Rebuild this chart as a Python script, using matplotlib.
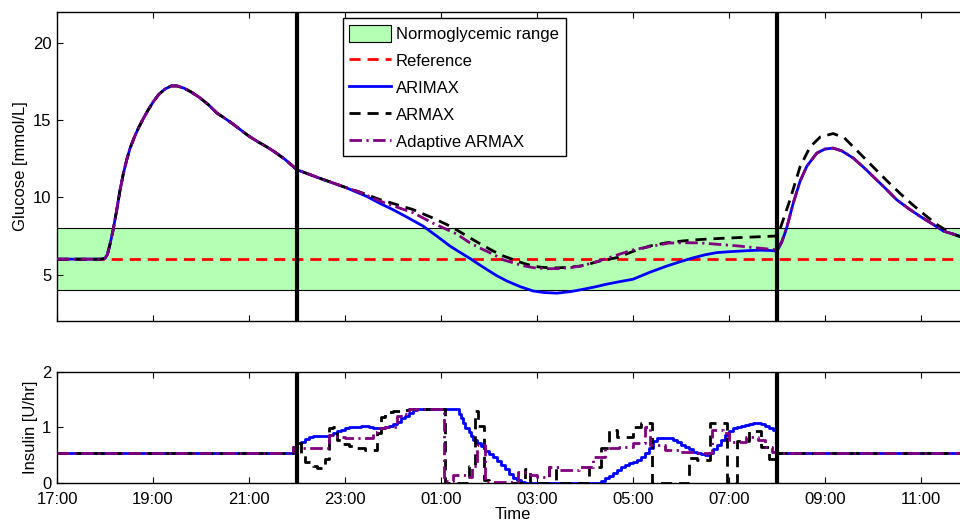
import numpy as np
import matplotlib
matplotlib.use("Agg")
import matplotlib.pyplot as plt
from matplotlib.patches import Patch
from matplotlib.lines import Line2D

plt.rcParams['font.family'] = ['Liberation Sans', 'DejaVu Sans']
plt.rcParams['font.size'] = 12

# ---- glucose [mmol/L], time in hours after midnight of day 1 (17 = 17:00) ----
# common part before the controller switches on at 22:00
t_pre = [17.0, 17.92, 18.0, 18.05, 18.1, 18.17, 18.24, 18.31, 18.38, 18.45, 18.52,
         18.6, 18.7, 18.8, 18.9, 19.0, 19.12, 19.25, 19.38, 19.5, 19.65, 19.8, 19.97,
         20.15, 20.33, 20.5, 20.66, 20.85, 21.0, 21.18, 21.36, 21.55, 21.75]
g_pre = [6.0, 6.0, 6.05, 6.3, 6.9, 7.9, 9.1, 10.4, 11.5, 12.4, 13.15,
         13.8, 14.5, 15.1, 15.65, 16.15, 16.65, 17.0, 17.2, 17.2, 17.05, 16.8, 16.45,
         16.0, 15.45, 15.1, 14.75, 14.3, 13.95, 13.6, 13.28, 12.9, 12.45]

t_arimax = [22.0, 22.5, 23.0, 23.45, 23.73, 24.0, 24.3, 24.63, 24.93, 25.19, 25.4,
            25.6, 25.78, 25.95, 26.15, 26.37, 26.65, 26.92, 27.15, 27.41, 27.7,
            27.96, 28.2, 28.45, 28.73, 29.0, 29.35, 29.7, 30.0, 30.26, 30.5, 30.74,
            31.0, 31.23, 31.45, 31.65, 31.85, 32.0, 32.1, 32.2, 32.34, 32.48, 32.62,
            32.83, 33.0, 33.17, 33.35, 33.59, 33.8, 34.0, 34.25, 34.49, 34.75, 34.98,
            35.25, 35.47, 35.81, 36.0]
g_arimax = [11.78, 11.2, 10.65, 10.06, 9.6, 9.2, 8.7, 8.13, 7.45, 6.84, 6.43,
            6.05, 5.68, 5.34, 4.95, 4.59, 4.22, 3.94, 3.84, 3.8, 3.9,
            4.05, 4.2, 4.38, 4.55, 4.7, 5.15, 5.55, 5.85, 6.09, 6.28, 6.42,
            6.48, 6.52, 6.56, 6.58, 6.56, 6.52, 7.1, 8.0, 9.64, 11.03, 12.0,
            12.86, 13.12, 13.18, 13.0, 12.53, 11.95, 11.35, 10.6, 9.85, 9.25, 8.77,
            8.25, 7.81, 7.49, 7.3]

t_armax = [22.0, 22.5, 23.0, 23.3, 23.73, 24.0, 24.42, 24.8, 25.12, 25.35, 25.6,
           25.85, 26.09, 26.3, 26.5, 26.7, 26.92, 27.1, 27.34, 27.6, 27.9, 28.1,
           28.31, 28.67, 29.0, 29.35, 29.7, 30.05, 30.4, 30.75, 31.1, 31.5, 31.94,
           32.0, 32.08, 32.27, 32.48, 32.69, 32.9, 33.17, 33.4, 33.59, 33.8, 34.0,
           34.28, 34.56, 34.85, 35.12, 35.35, 35.6, 35.81, 36.0]
g_armax = [11.78, 11.2, 10.65, 10.35, 9.85, 9.6, 9.2, 8.7, 8.24, 7.85, 7.38,
           6.93, 6.52, 6.2, 5.98, 5.75, 5.55, 5.47, 5.43, 5.46, 5.55, 5.7,
           5.88, 6.1, 6.5, 6.85, 7.06, 7.18, 7.27, 7.33, 7.38, 7.43, 7.49,
           7.49, 8.1, 9.83, 11.97, 13.26, 13.9, 14.12, 13.85, 13.26, 12.6, 11.97,
           11.1, 10.26, 9.45, 8.76, 8.2, 7.7, 7.45, 7.3]

t_adapt = [22.0, 22.5, 23.0, 23.3, 23.73, 24.0, 24.42, 24.83, 25.12, 25.33, 25.6,
           25.81, 26.09, 26.3, 26.5, 26.7, 26.92, 27.2, 27.45, 27.7, 27.95, 28.31,
           28.6, 29.0, 29.42, 29.75, 30.12, 30.4, 30.8, 31.2, 31.5, 32.0, 32.1,
           32.2, 32.34, 32.48, 32.62, 32.83, 33.0, 33.17, 33.35, 33.59, 33.8, 34.0,
           34.25, 34.49, 34.75, 34.98, 35.25, 35.47, 35.81, 36.0]
g_adapt = [11.78, 11.2, 10.65, 10.33, 9.75, 9.45, 9.0, 8.33, 7.92, 7.62, 7.06,
           6.72, 6.31, 5.95, 5.77, 5.58, 5.45, 5.38, 5.39, 5.45, 5.58, 5.9,
           6.2, 6.6, 6.85, 7.04, 7.06, 7.05, 6.95, 6.85, 6.75, 6.6, 7.15,
           8.0, 9.64, 11.03, 12.0, 12.86, 13.12, 13.18, 13.0, 12.53, 11.95, 11.35,
           10.6, 9.85, 9.25, 8.77, 8.25, 7.81, 7.49, 7.3]

g_reference = 6.0
normo_low, normo_high = 4.0, 8.0
ctrl_on, ctrl_off = 22.0, 32.0

# ---- insulin [U/hr], step knots (value holds until next time) ----
ti_arimax = [17.0, 22.0, 22.08, 22.17, 22.25, 22.33, 22.5, 22.67, 22.75, 22.83, 22.92,
             23.0, 23.08, 23.17, 23.33, 23.5, 23.58, 23.75, 23.83, 23.92, 24.0, 24.08,
             24.17, 24.25, 24.33, 24.42, 24.5, 25.38, 25.42, 25.46, 25.5, 25.58, 25.62,
             25.67, 25.75, 25.83, 25.92, 26.0, 26.08, 26.17, 26.25, 26.33, 26.42, 26.5,
             26.58, 26.67, 26.75, 28.33, 28.42, 28.5, 28.58, 28.67, 28.75, 28.83, 28.92,
             29.0, 29.08, 29.17, 29.25, 29.33, 29.42, 29.5, 29.58, 29.75, 29.83, 29.92,
             30.0, 30.08, 30.17, 30.25, 30.33, 30.42, 30.5, 30.58, 30.67, 30.75, 30.83,
             30.92, 31.0, 31.08, 31.17, 31.25, 31.33, 31.42, 31.5, 31.67, 31.75, 31.83,
             31.92, 32.0, 36.0]
u_arimax = [0.53, 0.71, 0.74, 0.79, 0.82, 0.84, 0.85, 0.86, 0.89, 0.93, 0.96,
            0.98, 1.0, 1.01, 1.02, 1.0, 0.98, 0.98, 1.0, 1.03, 1.06, 1.1,
            1.16, 1.21, 1.26, 1.31, 1.34, 1.25, 1.16, 1.07, 0.99, 0.92, 0.84,
            0.77, 0.72, 0.66, 0.58, 0.52, 0.46, 0.39, 0.32, 0.24, 0.16, 0.09,
            0.04, 0.01, 0.0, 0.03, 0.08, 0.13, 0.18, 0.23, 0.28, 0.32, 0.35,
            0.38, 0.41, 0.46, 0.53, 0.63, 0.76, 0.8, 0.81, 0.8, 0.77, 0.73,
            0.69, 0.65, 0.6, 0.56, 0.53, 0.51, 0.5, 0.54, 0.6, 0.68, 0.78,
            0.87, 0.94, 0.98, 1.01, 1.03, 1.05, 1.06, 1.07, 1.06, 1.03, 0.99,
            0.95, 0.53, 0.53]

ti_armax = [17.0, 21.92, 22.0, 22.08, 22.17, 22.33, 22.42, 22.5, 22.58, 22.67, 22.75,
            22.83, 22.92, 23.08, 23.25, 23.42, 23.58, 23.67, 23.75, 23.83, 24.0, 24.17,
            24.33, 25.08, 25.58, 25.7, 25.77, 25.9, 26.0, 26.75, 26.85, 27.25, 27.4,
            28.08, 28.33, 28.5, 28.67, 28.83, 29.0, 29.17, 29.4, 30.17, 30.33, 30.6,
            30.95, 31.17, 31.42, 31.67, 31.83, 32.0, 36.0]
u_armax = [0.53, 0.65, 0.72, 0.5, 0.38, 0.3, 0.26, 0.27, 0.42, 0.98, 1.01,
           0.77, 0.7, 0.66, 0.62, 0.59, 0.59, 0.89, 1.19, 1.28, 1.3, 1.32,
           1.34, 0.0, 0.3, 1.3, 1.02, 0.05, 0.0, 0.25, 0.0, 0.28, 0.0,
           0.28, 0.62, 0.96, 0.82, 0.83, 1.0, 1.07, 0.0, 0.45, 0.41, 1.07,
           0.0, 0.75, 0.93, 0.65, 0.42, 0.53, 0.53]

ti_adapt = [17.0, 21.92, 22.0, 22.67, 22.83, 23.0, 23.58, 23.67, 23.83, 24.08, 24.17,
            24.33, 25.07, 25.25, 25.55, 25.65, 25.75, 25.92, 26.6, 26.85, 27.0, 27.25,
            27.45, 27.88, 28.17, 28.42, 28.7, 29.0, 29.25, 29.35, 29.67, 29.97, 30.3,
            30.65, 30.88, 31.0, 31.35, 31.6, 31.75, 31.9, 32.0, 36.0]
u_adapt = [0.53, 0.65, 0.63, 0.86, 0.83, 0.8, 0.92, 0.98, 1.0, 1.2, 1.25,
           1.34, 0.03, 0.14, 0.1, 0.31, 0.68, 0.02, 0.2, 0.14, 0.1, 0.29,
           0.23, 0.29, 0.47, 0.62, 0.65, 0.71, 1.0, 0.68, 0.59, 0.55, 0.53,
           0.95, 0.89, 0.74, 0.83, 0.77, 0.65, 0.56, 0.53, 0.53]

tick_hours = list(range(17, 36, 2))
tick_labels = ["%02d:00" % (h % 24) for h in tick_hours]

green = (0.7, 1.0, 0.7)
purple = (0.5, 0.0, 0.5)
lw = 2.0

fig = plt.figure(figsize=(9.6, 5.23), dpi=100)
W, H = 960.0, 523.0
x0, x1 = 57.0, 969.0
ax1 = fig.add_axes([x0 / W, 1 - 321 / H, (x1 - x0) / W, (321 - 11.7) / H])
ax2 = fig.add_axes([x0 / W, 1 - 482.7 / H, (x1 - x0) / W, (482.7 - 372) / H])

# glucose panel
ax1.axhspan(normo_low, normo_high, facecolor=green, edgecolor='none', zorder=0)
ax1.axhline(normo_low, color='k', lw=0.8, zorder=1)
ax1.axhline(normo_high, color='k', lw=0.8, zorder=1)
ax1.axhline(g_reference, color='red', lw=lw, dashes=(4, 2.5), zorder=2)
ax1.plot(t_pre + t_arimax, g_pre + g_arimax, color='blue', lw=lw, zorder=3)
ax1.plot(t_pre + t_armax, g_pre + g_armax, color='k', lw=lw, dashes=(4, 2.5), zorder=4)
ax1.plot(t_pre + t_adapt, g_pre + g_adapt, color=purple, lw=lw,
         dashes=(4.5, 1.6, 0.8, 1.6), zorder=5)
ax1.set_ylim(2, 22)
ax1.set_yticks([5, 10, 15, 20])
ax1.set_ylabel('Glucose [mmol/L]')
ax1.yaxis.set_label_coords(-0.032, 0.5)
ax1.set_xticklabels([])

# insulin panel
ax2.plot(ti_arimax, u_arimax, color='blue', lw=lw, drawstyle='steps-post', zorder=3)
ax2.plot(ti_armax, u_armax, color='k', lw=lw, dashes=(4, 2.5),
         drawstyle='steps-post', zorder=4)
ax2.plot(ti_adapt, u_adapt, color=purple, lw=lw, dashes=(4.5, 1.6, 0.8, 1.6),
         drawstyle='steps-post', zorder=5)
ax2.set_ylim(0, 2)
ax2.set_yticks([0, 1, 2])
ax2.set_ylabel('Insulin [U/hr]')
ax2.yaxis.set_label_coords(-0.0205, 0.5)

for ax in (ax1, ax2):
    ax.set_xlim(17, 36)
    ax.set_xticks(tick_hours)
    ax.axvline(ctrl_on, color='k', lw=3, zorder=6)
    ax.axvline(ctrl_off, color='k', lw=3, zorder=6)
    ax.tick_params(direction='in', length=4, width=0.8, top=True, right=True,
                   labelsize=12, pad=4)
    for sp in ax.spines.values():
        sp.set_linewidth(1.0)
ax2.tick_params(axis='x', pad=7)
ax2.set_xticklabels(tick_labels)
ax2.set_xlabel('Time', labelpad=0)

handles = [
    Patch(facecolor=green, edgecolor='k', lw=0.8),
    Line2D([], [], color='red', lw=lw, dashes=(4, 2.5)),
    Line2D([], [], color='blue', lw=lw),
    Line2D([], [], color='k', lw=lw, dashes=(4, 2.5)),
    Line2D([], [], color=purple, lw=lw, dashes=(4.5, 1.6, 0.8, 1.6)),
]
labels = ['Normoglycemic range', 'Reference', 'ARIMAX', 'ARMAX', 'Adaptive ARMAX']
leg = ax1.legend(handles, labels, loc='upper left',
                 bbox_to_anchor=(342.7 / W, 1 - 18.3 / H), bbox_transform=fig.transFigure,
                 borderaxespad=0, fancybox=False, framealpha=1, edgecolor='k',
                 handlelength=2.5, handleheight=1.15, handletextpad=0.3,
                 labelspacing=0.6, borderpad=0.4, fontsize=12)
leg.get_frame().set_linewidth(1.0)
leg.set_zorder(10)

fig.savefig('out.png', dpi=100)
